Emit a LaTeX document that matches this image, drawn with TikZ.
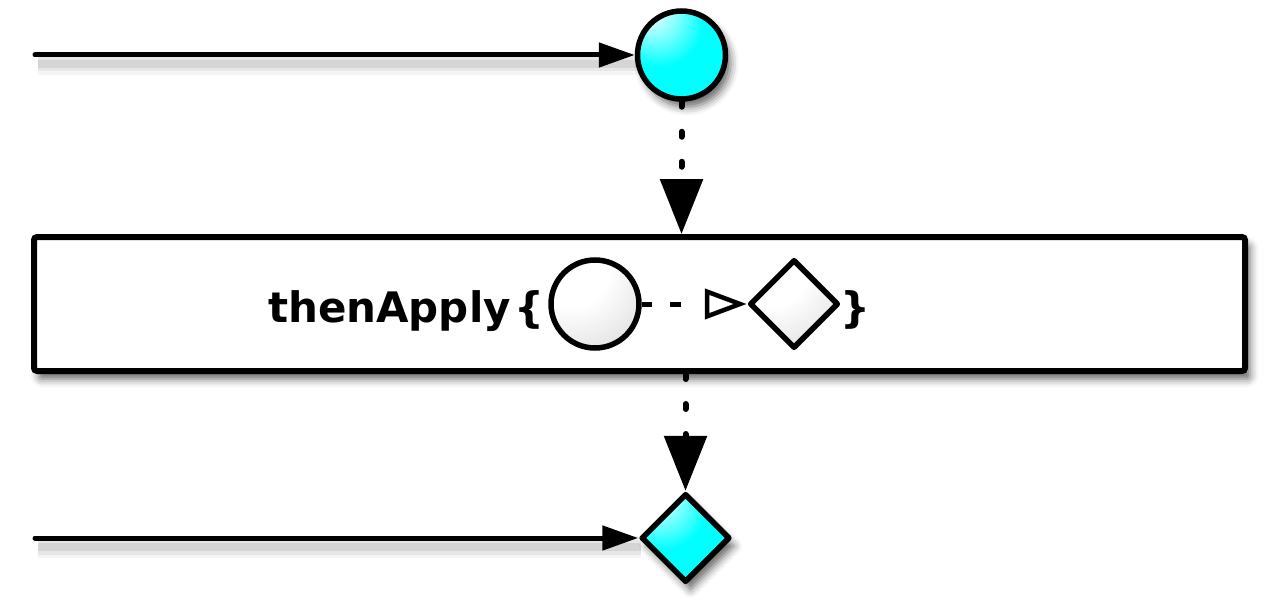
\documentclass[tikz,border=0pt]{standalone}
\usepackage{fontspec}
\setmainfont{DejaVu Sans}
\usepackage{xcolor}
\usetikzlibrary{arrows.meta}
\usetikzlibrary{shapes.geometric, shadows.blur}
\usetikzlibrary{math}
\definecolor{qteal}{RGB}{0,130,130}
\pgfdeclareradialshading{cyanball}{\pgfpoint{-18bp}{26bp}}{color(0bp)=(white); color(12bp)=(cyan!45!white); color(26bp)=(cyan); color(44bp)=(cyan); color(66bp)=(qteal); color(100bp)=(qteal)}
\pgfdeclareradialshading{greyball}{\pgfpoint{-18bp}{26bp}}{color(0bp)=(white); color(22bp)=(white); color(42bp)=(black!10); color(62bp)=(black!50); color(100bp)=(black!50)}

\begin{document}
\begin{tikzpicture}[x=1pt, y=-1pt,
  every node/.style={inner sep=0pt},
  marble/.style={circle, draw, line width=5.5pt, minimum size=88pt},
  gem/.style={diamond, aspect=1, draw, line width=5.5pt, line join=round, minimum size=89pt},
  soft/.style={blur shadow={shadow xshift=5pt, shadow yshift=-8pt, shadow blur radius=8pt, shadow opacity=60}},
  feed/.style={line width=5pt, line cap=round, -{Triangle[length=36pt, width=24pt]},
    preaction={draw=black, -, line width=22pt, opacity=.04, transform canvas={shift={(3pt,-9pt)}}},
    preaction={draw=black, -, line width=15pt, opacity=.06, transform canvas={shift={(3pt,-9pt)}}},
    preaction={draw=black, -, line width=8pt, opacity=.08, transform canvas={shift={(3pt,-9pt)}}}},
  emit/.style={line width=6pt, line cap=round, dash pattern=on 5pt off 25pt, -{Triangle[length=55pt, width=42pt]}},
  opfont/.style={font=\fontsize{42}{50}\selectfont\bfseries}
]

\tikzmath{
\cy = 55;  % top marble
\by = 304; % operator box
\dy = 538; % result
}

\useasboundingbox (0,0) rectangle (1280,610);

%inputs:
\coordinate (in1) at (35,\cy);
\coordinate (in2) at (35,\dy);

\node[marble, soft, shading=cyanball] (src) at (681.5,\cy) {};
\node[draw, line width=6pt, rounded corners=3pt, fill=white, soft, minimum width=1211pt, minimum height=134pt] (op) at (639.5,\by) {};
\node[gem, soft, shading=cyanball] (res) at (685.5,\dy) {};

%operator:
\node[opfont, anchor=base east] (fn) at (511,322) {thenApply};
\node[opfont, anchor=base] (lbr) at (529,322) {\{};
\node[marble, shading=greyball] (arg) at (595,\by) {};
\node[gem, shading=greyball] (val) at (794,\by) {};
\node[opfont, anchor=base] (rbr) at (855,322) {\}};

\draw[feed] (in1) -- (src);
\draw[feed] (in2) -- (res);
\draw[emit] (src.south) -- (src.south |- op.north);
\draw[emit] (res.north |- op.south) -- (res.north);
\draw[line width=5pt, dash pattern=on 10pt off 18pt on 11pt off 40pt, -{Triangle[open, length=42pt, width=30pt, line width=4.5pt]}] (arg) -- (val);

\end{tikzpicture}
\end{document}
